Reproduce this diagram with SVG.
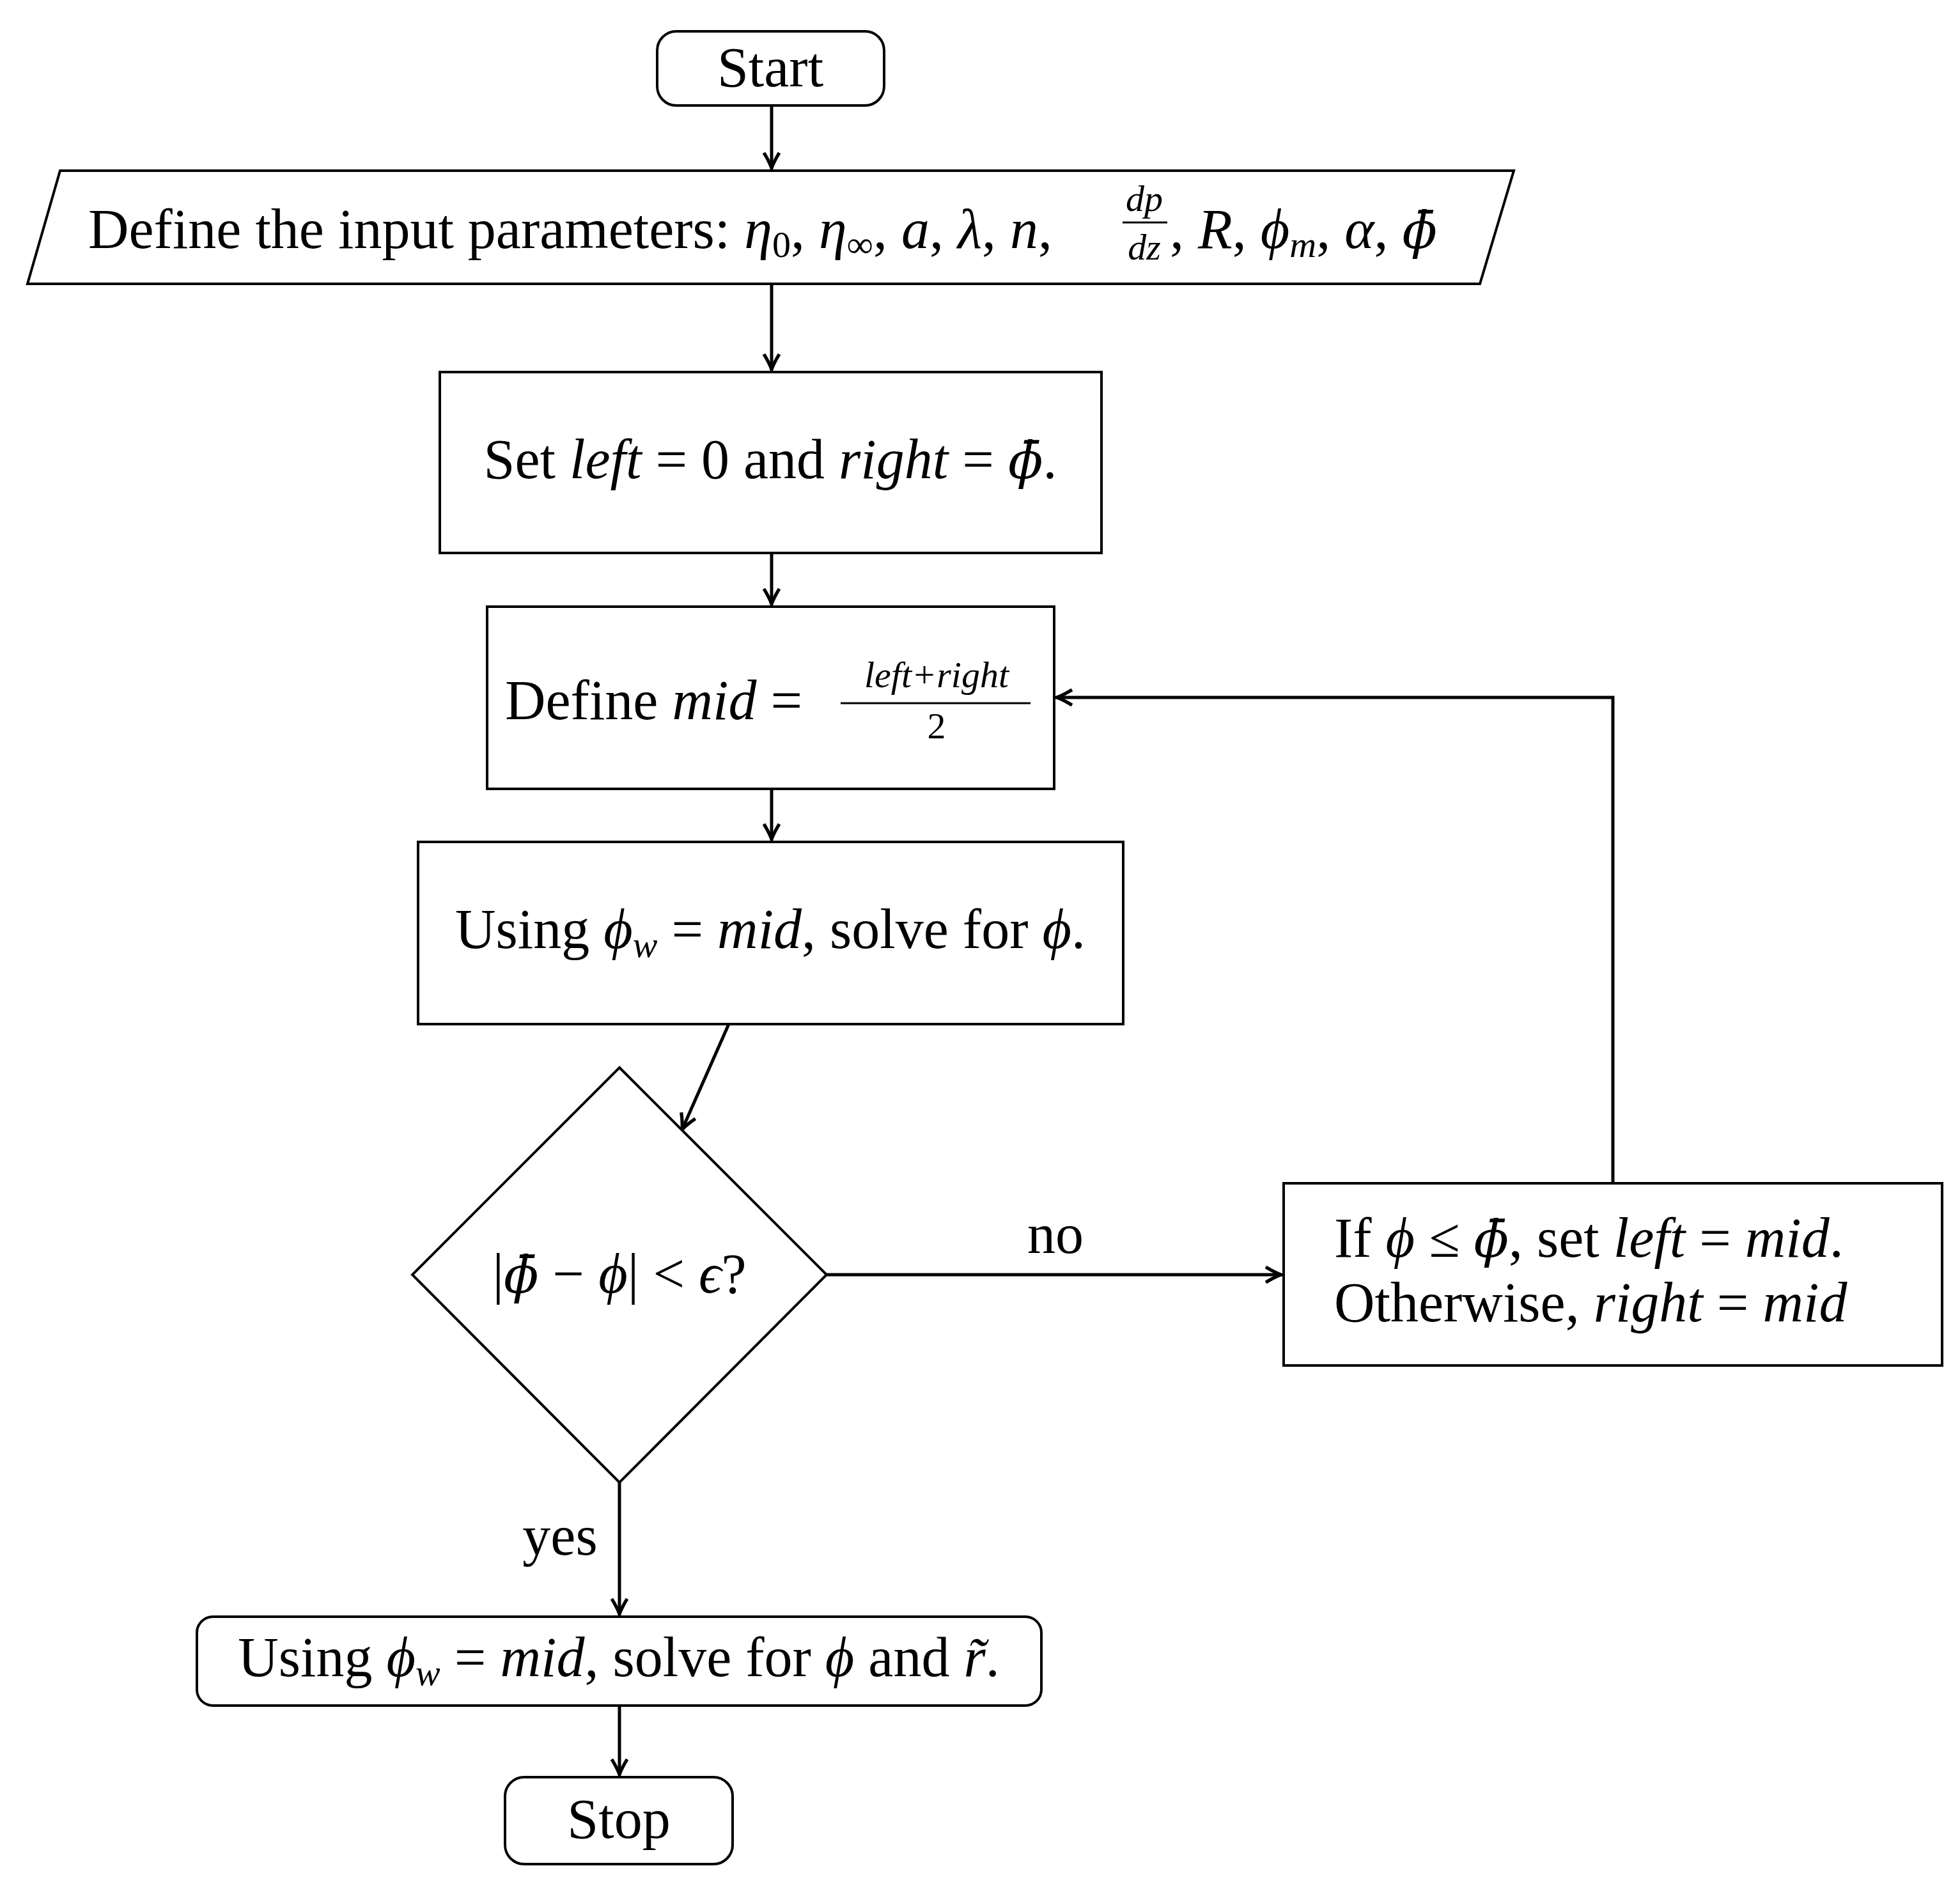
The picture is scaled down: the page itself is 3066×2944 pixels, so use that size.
<svg xmlns="http://www.w3.org/2000/svg" width="3066" height="2944" viewBox="0 0 3066 2944">
<style>
.s{fill:#fff;stroke:#000;stroke-width:4}
.c{fill:none;stroke:#000;stroke-width:5}
text{font-family:"Liberation Serif","DejaVu Serif",serif;font-size:88px;fill:#000}
.i{font-style:italic}
.sm{font-size:58px}
.b{font-family:"DejaVu Serif",serif;font-size:80px}
</style>
<defs>
<marker id="a" viewBox="0 0 20 20" refX="18" refY="10" markerWidth="30" markerHeight="30" orient="auto" markerUnits="userSpaceOnUse"><path d="M2,2 Q12,8 18,10 Q12,12 2,18" fill="none" stroke="#000" stroke-width="3.5"/></marker>
</defs>
<rect width="3066" height="2944" fill="#fff"/>
<g id="connectors">
<line class="c" x1="1207" y1="165" x2="1207" y2="263" marker-end="url(#a)"/>
<line class="c" x1="1207" y1="444" x2="1207" y2="578" marker-end="url(#a)"/>
<line class="c" x1="1207" y1="865" x2="1207" y2="945" marker-end="url(#a)"/>
<line class="c" x1="1207" y1="1234" x2="1207" y2="1313" marker-end="url(#a)"/>
<line class="c" x1="1140" y1="1602" x2="1067" y2="1767" marker-end="url(#a)"/>
<line class="c" x1="1293" y1="1994" x2="2004" y2="1994" marker-end="url(#a)"/>
<polyline class="c" points="2523,1851 2523,1091 1653,1091" marker-end="url(#a)"/>
<line class="c" x1="969" y1="2319" x2="969" y2="2525" marker-end="url(#a)"/>
<line class="c" x1="969" y1="2668" x2="969" y2="2776" marker-end="url(#a)"/>
<text x="1651" y="1960" text-anchor="middle">no</text>
<text x="876" y="2432" text-anchor="middle">yes</text>
</g>
<g id="start"><rect class="s" x="1028" y="49" width="355" height="116" rx="30"/><text x="1205" y="135" text-anchor="middle">Start</text></g>
<g id="input"><polygon class="s" points="94,267 2368,267 2315,444 43,444"/>
<text x="138" y="388">Define the input parameters: <tspan class="i">η</tspan><tspan class="sm" dy="14">0</tspan><tspan dy="-14">, </tspan><tspan class="i">η</tspan><tspan class="sm" dy="14">∞</tspan><tspan dy="-14">, </tspan><tspan class="i">a</tspan>, <tspan class="i">λ</tspan>, <tspan class="i">n</tspan>,</text>
<text class="i sm" x="1790" y="330" text-anchor="middle">dp</text>
<line x1="1756" y1="348" x2="1826" y2="348" stroke="#000" stroke-width="3"/>
<text class="i sm" x="1790" y="406" text-anchor="middle">dz</text>
<text x="1830" y="388">, <tspan class="i">R</tspan>, <tspan class="i">ϕ</tspan><tspan class="i sm" dy="14">m</tspan><tspan dy="-14">, </tspan><tspan class="i">α</tspan>, <tspan class="i b">ϕ̄</tspan></text>
</g>
<g id="set"><rect class="s" x="688" y="582" width="1035" height="283"/><text x="1205" y="748" text-anchor="middle">Set <tspan class="i">left</tspan> = 0 and <tspan class="i">right</tspan> = <tspan class="i b">ϕ̄</tspan>.</text></g>
<g id="mid"><rect class="s" x="762" y="949" width="887" height="285"/>
<text x="790" y="1125">Define <tspan class="i">mid</tspan> =</text>
<text class="i sm" x="1465" y="1075" text-anchor="middle">left+right</text>
<line x1="1315" y1="1100" x2="1612" y2="1100" stroke="#000" stroke-width="3"/>
<text class="sm" x="1465" y="1155" text-anchor="middle">2</text></g>
<g id="solve"><rect class="s" x="654" y="1317" width="1103" height="285"/><text x="1205" y="1483" text-anchor="middle">Using <tspan class="i">ϕ</tspan><tspan class="i sm" dy="14">w</tspan><tspan dy="-14"> = </tspan><tspan class="i">mid</tspan>, solve for <tspan class="i">ϕ</tspan>.</text></g>
<g id="check"><polygon class="s" points="969,1670 1293,1994 969,2319 645,1994"/><text x="969" y="2022" text-anchor="middle">|<tspan class="i b">ϕ̄</tspan> − <tspan class="i">ϕ</tspan>| &lt; <tspan class="i">ϵ</tspan>?</text></g>
<g id="update"><rect class="s" x="2008" y="1851" width="1030" height="285"/>
<text x="2087" y="1966">If <tspan class="i">ϕ</tspan> ≤ <tspan class="i b">ϕ̄</tspan>, set <tspan class="i">left</tspan> = <tspan class="i">mid</tspan>.</text>
<text x="2087" y="2067">Otherwise, <tspan class="i">right</tspan> = <tspan class="i">mid</tspan></text></g>
<g id="final"><rect class="s" x="308" y="2529" width="1321" height="139" rx="25"/><text x="968" y="2622" text-anchor="middle">Using <tspan class="i">ϕ</tspan><tspan class="i sm" dy="14">w</tspan><tspan dy="-14"> = </tspan><tspan class="i">mid</tspan>, solve for <tspan class="i">ϕ</tspan> and <tspan class="i">r̃</tspan>.</text></g>
<g id="stop"><rect class="s" x="790" y="2780" width="356" height="136" rx="30"/><text x="968" y="2875" text-anchor="middle">Stop</text></g>
</svg>
